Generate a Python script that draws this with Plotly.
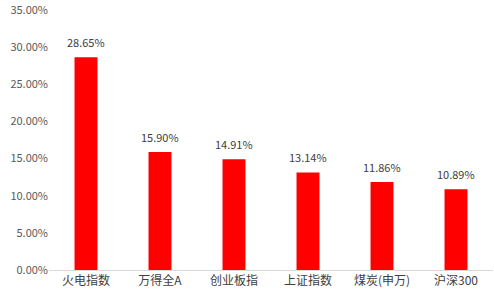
import plotly.graph_objects as go

categories = ["火电指数", "万得全A", "创业板指", "上证指数", "煤炭(申万)", "沪深300"]
values = [28.65, 15.90, 14.91, 13.14, 11.86, 10.89]
tick_vals = [0, 5, 10, 15, 20, 25, 30, 35]
tick_text = ["0.00%", "5.00%", "10.00%", "15.00%", "20.00%", "25.00%", "30.00%", "35.00%"]

fig = go.Figure(go.Bar(
    x=categories, y=values,
    marker=dict(color="#FF0000", line=dict(width=0)),
    cliponaxis=False,
))
for c, v in zip(categories, values):
    fig.add_annotation(x=c, y=v, text=f"{v:.2f}%", showarrow=False,
                       yanchor="bottom", yshift=5,
                       font=dict(size=11, color="#404040"))
fig.update_layout(
    width=494, height=296,
    margin=dict(l=49, r=1, t=8, b=26),
    plot_bgcolor="white", paper_bgcolor="white",
    font=dict(family="Noto Sans CJK SC, DejaVu Sans", size=11, color="#595959"),
    bargap=0.69,
    showlegend=False,
)
fig.update_xaxes(showline=True, linecolor="#D9D9D9", linewidth=1, showgrid=False,
                 ticks="", tickfont=dict(size=12, color="#404040"))
fig.update_yaxes(range=[0, 35.02], tickvals=tick_vals, ticktext=tick_text, showgrid=False,
                 zeroline=False, showline=False, ticks="", ticklabeloverflow="allow",
                 tickfont=dict(size=11, color="#595959"))
fig.write_html("out.html")
